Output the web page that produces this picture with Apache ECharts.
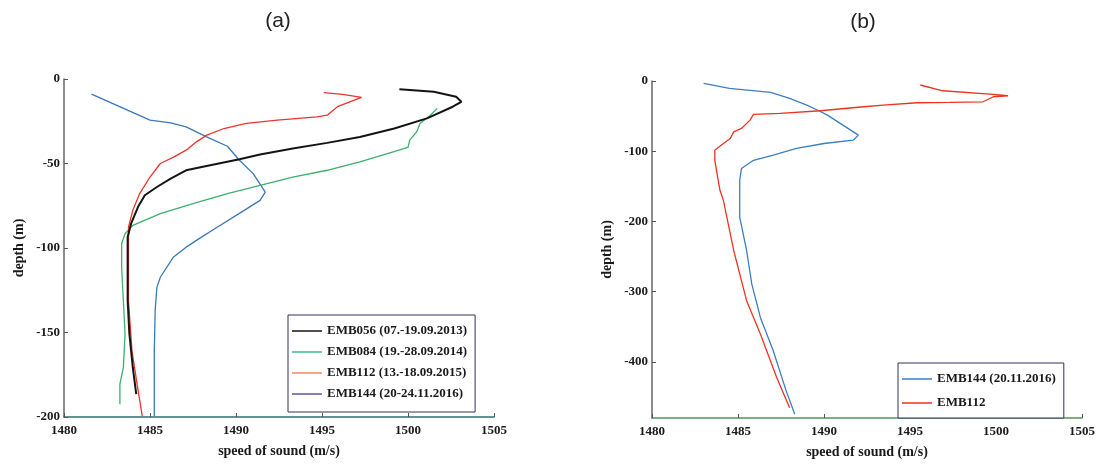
<!DOCTYPE html>
<html>
<head>
<meta charset="utf-8">
<script src="https://cdn.jsdelivr.net/npm/echarts@6/dist/echarts.min.js"></script>
<style>
  html, body { margin: 0; padding: 0; background: #fff; }
  #chart { width: 1099px; height: 464px; }
</style>
</head>
<body>
<div id="chart"></div>
<script>
// panel (a) - sound speed profiles, 4 cruises
var emb056Speed = [1499.5, 1501.5, 1502.8, 1503.1, 1502.6, 1501.1, 1499.2, 1497.2, 1495.3, 1493.3, 1491.4, 1490.2, 1488.5, 1487.1, 1486.2, 1485.4, 1484.7, 1484.3, 1483.9, 1483.7, 1483.7, 1483.7, 1483.8, 1484.0, 1484.2];
var emb056Depth = [-6, -7.5, -10.5, -13.5, -16.4, -23.3, -29.3, -34.3, -37.8, -41.1, -44.7, -47.5, -51, -54, -58.9, -63.9, -68.8, -75.8, -85.6, -93.6, -111.4, -131.2, -150.7, -170.7, -186.5];

var emb084Speed = [1501.7, 1501.3, 1500.7, 1500.5, 1500.1, 1500.0, 1498.8, 1497.2, 1495.3, 1493.3, 1491.4, 1489.5, 1487.5, 1485.6, 1484.0, 1483.55, 1483.35, 1483.35, 1483.45, 1483.55, 1483.45, 1483.25, 1483.25];
var emb084Depth = [-17.4, -21.4, -26.3, -31.3, -36.2, -40.5, -44.1, -49.1, -54, -58, -62.9, -67.8, -73.8, -79.7, -86.6, -91.6, -97.5, -111.4, -131.2, -150.9, -170.7, -180.6, -192.5];

var emb112Speed = [1495.1, 1496.2, 1497.3, 1495.9, 1495.3, 1494.7, 1492.4, 1490.6, 1489.3, 1488.3, 1487.7, 1487.1, 1486.4, 1485.6, 1485.0, 1484.4, 1484.0, 1483.75, 1483.75, 1483.75, 1483.95, 1484.25, 1484.55];
var emb112Depth = [-8.1, -9.1, -10.9, -16.4, -21.4, -22.4, -24.3, -26.3, -29.3, -33.2, -37.2, -42.1, -46.1, -50, -58, -67.8, -77.7, -87.7, -101.5, -131.2, -160.8, -180.6, -199.5];

var emb144Speed = [1481.6, 1485.0, 1486.2, 1487.1, 1488.2, 1489.5, 1490.2, 1491.0, 1491.7, 1491.4, 1490.2, 1488.9, 1487.7, 1487.1, 1486.35, 1485.6, 1485.4, 1485.3, 1485.25, 1485.25];
var emb144Depth = [-8.9, -24.3, -25.9, -28.3, -33.8, -39.8, -48.1, -56, -66.9, -71.8, -79.5, -87.7, -95.5, -99.5, -105.5, -117.3, -123.3, -137, -160.8, -199.5];

// panel (b) - EMB144 vs EMB112 down to ~480 m
var emb144bSpeed = [1483.0, 1484.5, 1486.9, 1488.0, 1489.0, 1489.7, 1490.2, 1491.1, 1492.0, 1491.7, 1490.0, 1488.4, 1487.05, 1485.9, 1485.2, 1485.1, 1485.1, 1485.1, 1485.5, 1485.8, 1486.3, 1487.05, 1487.8, 1488.3];
var emb144bDepth = [-3.3, -10.4, -16.1, -24.7, -34.3, -42.4, -48.6, -62.9, -77.1, -84.3, -89, -96.1, -105.7, -112.9, -124.7, -141.4, -170, -193.9, -241.4, -289, -336.7, -384.3, -441.4, -474.7];

var emb112bSpeed = [1495.6, 1496.9, 1499.65, 1500.7, 1499.85, 1499.25, 1497.3, 1495.4, 1493.45, 1492.3, 1489.8, 1487.45, 1485.9, 1485.7, 1485.2, 1484.75, 1484.55, 1484.15, 1483.65, 1483.65, 1483.95, 1484.15, 1484.75, 1485.5, 1486.3, 1487.25, 1488.0];
var emb112bDepth = [-5.7, -13.9, -18.6, -21, -22.4, -29.6, -30.4, -31, -34.3, -36.7, -42.4, -46.1, -47.6, -55.7, -67.6, -72.4, -81.9, -89, -98.6, -112.9, -155.7, -170, -241.4, -312.9, -360.4, -422.4, -465.3];

function pairs(xs, ys) {
  return xs.map(function (x, i) { return [x, ys[i]]; });
}

var chart = echarts.init(document.getElementById('chart'));

var labelFont = {
  color: '#1a1a1a',
  fontFamily: 'Liberation Serif',
  fontWeight: 'bold',
  fontSize: 13
};
var nameFont = {
  color: '#1a1a1a',
  fontFamily: 'Liberation Serif',
  fontWeight: 'bold',
  fontSize: 14
};

function plain(v) { return String(v); }

function xAxisOf(gridIndex, lineColor) {
  return {
    gridIndex: gridIndex,
    type: 'value',
    position: 'bottom',
    min: 1480,
    max: 1505,
    interval: 5,
    name: 'speed of sound (m/s)',
    nameLocation: 'middle',
    nameGap: 27,
    nameTextStyle: nameFont,
    axisLine: { show: true, onZero: false, lineStyle: { color: lineColor, width: 1.5 } },
    axisTick: { show: true, inside: true, length: 4, lineStyle: { color: '#555' } },
    axisLabel: Object.assign({ margin: 7, formatter: plain }, labelFont),
    splitLine: { show: false }
  };
}

function yAxisOf(gridIndex, min, extra, labelExtra) {
  return Object.assign({
    gridIndex: gridIndex,
    type: 'value',
    position: 'left',
    min: min,
    max: 0,
    name: 'depth (m)',
    nameLocation: 'middle',
    nameRotate: 90,
    nameGap: 38,
    nameTextStyle: nameFont,
    axisLine: { show: true, onZero: false, lineStyle: { color: '#666', width: 1.5 } },
    axisTick: { show: true, inside: true, length: 4, lineStyle: { color: '#555' } },
    axisLabel: Object.assign({ margin: 4, formatter: plain }, labelFont, labelExtra || {}),
    splitLine: { show: false }
  }, extra);
}

function lineSeries(name, idx, data, color, width) {
  return {
    name: name,
    type: 'line',
    xAxisIndex: idx,
    yAxisIndex: idx,
    data: data,
    symbol: 'none',
    smooth: false,
    lineStyle: { color: color, width: width },
    itemStyle: { color: color }
  };
}

var legendText = {
  color: '#1a1a1a',
  fontFamily: 'Liberation Serif',
  fontWeight: 'bold',
  fontSize: 13,
  lineHeight: 14
};

chart.setOption({
  backgroundColor: '#fff',
  animation: false,
  title: [
    { text: '(a)', left: 273, top: 6, textAlign: 'center',
      textStyle: { fontFamily: 'Liberation Sans', fontWeight: 'normal', fontSize: 21, color: '#222' } },
    { text: '(b)', left: 858, top: 7, textAlign: 'center',
      textStyle: { fontFamily: 'Liberation Sans', fontWeight: 'normal', fontSize: 21, color: '#222' } }
  ],
  grid: [
    { left: 64, top: 79, width: 430, height: 338 },
    { left: 652, top: 81, width: 430, height: 337 }
  ],
  xAxis: [xAxisOf(0, '#2f6f70'), xAxisOf(1, '#4a9a55')],
  yAxis: [
    yAxisOf(0, -200, { interval: 50 }),
    yAxisOf(1, -480, { splitNumber: 5 }, { showMinLabel: false })
  ],
  legend: [
    {
      orient: 'vertical',
      left: 288,
      top: 315,
      width: 204,
      padding: [9, 8, 11, 4],
      icon: 'rect',
      itemWidth: 30,
      itemHeight: 1.5,
      itemGap: 7,
      backgroundColor: '#fff',
      borderColor: '#303060',
      borderWidth: 1,
      textStyle: legendText,
      data: [
        { name: 'EMB056 (07.-19.09.2013)' },
        { name: 'EMB084 (19.-28.09.2014)', itemStyle: { color: '#45b98c' } },
        { name: 'EMB112 (13.-18.09.2015)', itemStyle: { color: '#f08a5a' } },
        { name: 'EMB144 (20-24.11.2016)', itemStyle: { color: '#5a56a8' } }
      ]
    },
    {
      orient: 'vertical',
      left: 898,
      top: 363,
      width: 182,
      padding: [9, 8, 8, 4],
      icon: 'rect',
      itemWidth: 30,
      itemHeight: 1.5,
      itemGap: 10,
      backgroundColor: '#fff',
      borderColor: '#303060',
      borderWidth: 1,
      textStyle: legendText,
      data: [
        { name: 'EMB144 (20.11.2016)' },
        { name: 'EMB112' }
      ]
    }
  ],
  series: [
    lineSeries('EMB144 (20-24.11.2016)', 0, pairs(emb144Speed, emb144Depth), '#3b78b5', 1.3),
    lineSeries('EMB084 (19.-28.09.2014)', 0, pairs(emb084Speed, emb084Depth), '#3bb06a', 1.3),
    lineSeries('EMB112 (13.-18.09.2015)', 0, pairs(emb112Speed, emb112Depth), '#e8352d', 1.3),
    lineSeries('EMB056 (07.-19.09.2013)', 0, pairs(emb056Speed, emb056Depth), '#141414', 2),
    lineSeries('EMB144 (20.11.2016)', 1, pairs(emb144bSpeed, emb144bDepth), '#3a7fc0', 1.3),
    lineSeries('EMB112', 1, pairs(emb112bSpeed, emb112bDepth), '#ee3322', 1.3)
  ]
});
</script>
</body>
</html>
